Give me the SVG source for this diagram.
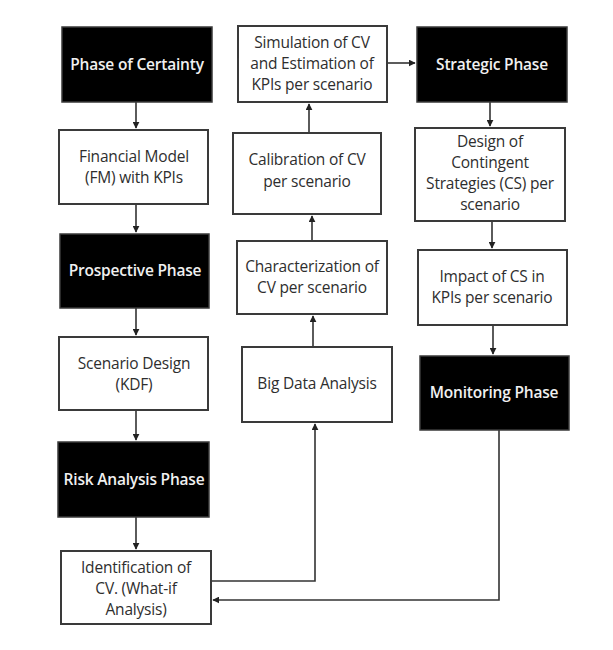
<svg xmlns="http://www.w3.org/2000/svg" width="613" height="650" viewBox="0 0 613 650">
<defs>
<style>
.w{fill:#fff;stroke:#3a3a3a;stroke-width:2}
.b{fill:#000;stroke:#3a3a3a;stroke-width:1.5}
text{font-family:"Open Sans","Noto Sans",sans-serif;font-size:15.5px;text-anchor:middle;letter-spacing:-0.2px}
text.tw{fill:#f0f0f0;font-weight:600}
.tk{fill:#2e2e2e}
.c{fill:none;stroke:#333;stroke-width:1.6}
</style>
<marker id="a" viewBox="0 0 10 10" refX="9" refY="5" markerWidth="7" markerHeight="7" orient="auto" markerUnits="userSpaceOnUse"><path d="M0,0L10,5L0,10z" fill="#222"/></marker>
</defs>
<rect width="613" height="650" fill="#fff"/>
<g id="connectors">
<path class="c" d="M136,102V128" marker-end="url(#a)"/>
<path class="c" d="M136,204V232" marker-end="url(#a)"/>
<path class="c" d="M136,308V335" marker-end="url(#a)"/>
<path class="c" d="M136,410V440" marker-end="url(#a)"/>
<path class="c" d="M136,517V549" marker-end="url(#a)"/>
<path class="c" d="M211,581H315V424" marker-end="url(#a)"/>
<path class="c" d="M313,347V316" marker-end="url(#a)"/>
<path class="c" d="M312,241V216" marker-end="url(#a)"/>
<path class="c" d="M309,133V104" marker-end="url(#a)"/>
<path class="c" d="M387,63H415" marker-end="url(#a)"/>
<path class="c" d="M490,102V126" marker-end="url(#a)"/>
<path class="c" d="M492,221V248" marker-end="url(#a)"/>
<path class="c" d="M493,325V354" marker-end="url(#a)"/>
<path class="c" d="M499,430V600H213" marker-end="url(#a)"/>
</g>
<g id="phase-certainty"><rect class="b" x="62" y="27" width="150" height="75"/><text class="tw" x="137" y="70">Phase of Certainty</text></g>
<g id="financial-model"><rect class="w" x="59" y="130" width="149" height="74"/><text class="tk" x="134" y="162">Financial Model</text><text class="tk" x="134" y="183">(FM) with KPIs</text></g>
<g id="prospective-phase"><rect class="b" x="60" y="234" width="149" height="74"/><text class="tw" x="135" y="276">Prospective Phase</text></g>
<g id="scenario-design"><rect class="w" x="59" y="337" width="149" height="73"/><text class="tk" x="134" y="369">Scenario Design</text><text class="tk" x="134" y="390">(KDF)</text></g>
<g id="risk-analysis-phase"><rect class="b" x="58" y="442" width="151" height="75"/><text class="tw" x="134" y="485">Risk Analysis Phase</text></g>
<g id="identification"><rect class="w" x="61" y="551" width="150" height="73"/><text class="tk" x="136" y="573">Identification of</text><text class="tk" x="136" y="594">CV. (What-if</text><text class="tk" x="136" y="615">Analysis)</text></g>
<g id="simulation"><rect class="w" x="238" y="26" width="149" height="76"/><text class="tk" x="312" y="48">Simulation of CV</text><text class="tk" x="312" y="69">and Estimation of</text><text class="tk" x="312" y="90">KPIs per scenario</text></g>
<g id="calibration"><rect class="w" x="233" y="133" width="148" height="81"/><text class="tk" x="307" y="165">Calibration of CV</text><text class="tk" x="307" y="187">per scenario</text></g>
<g id="characterization"><rect class="w" x="237" y="241" width="150" height="73"/><text class="tk" x="312" y="272">Characterization of</text><text class="tk" x="312" y="293">CV per scenario</text></g>
<g id="big-data"><rect class="w" x="242" y="347" width="150" height="75"/><text class="tk" x="317" y="389">Big Data Analysis</text></g>
<g id="strategic-phase"><rect class="b" x="417" y="27" width="150" height="75"/><text class="tw" x="492" y="70">Strategic Phase</text></g>
<g id="design-cs"><rect class="w" x="415" y="128" width="150" height="93"/><text class="tk" x="490" y="147">Design of</text><text class="tk" x="490" y="168">Contingent</text><text class="tk" x="490" y="189">Strategies (CS) per</text><text class="tk" x="490" y="210">scenario</text></g>
<g id="impact-cs"><rect class="w" x="418" y="250" width="149" height="75"/><text class="tk" x="492" y="282">Impact of CS in</text><text class="tk" x="492" y="303">KPIs per scenario</text></g>
<g id="monitoring-phase"><rect class="b" x="420" y="356" width="149" height="74"/><text class="tw" x="494" y="398">Monitoring Phase</text></g>
</svg>
